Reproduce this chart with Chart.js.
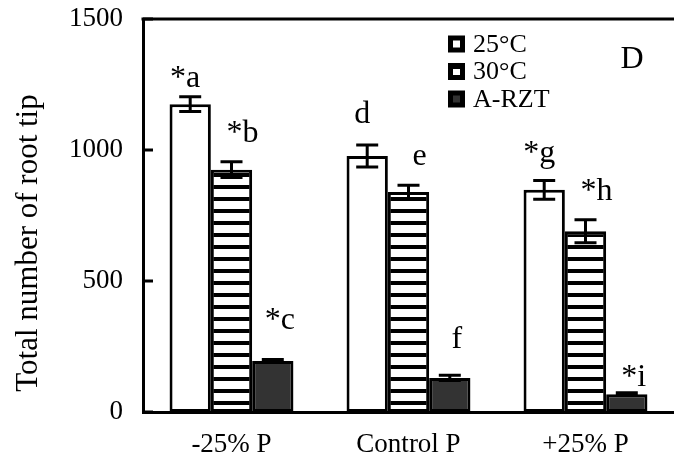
<!DOCTYPE html>
<html>
<head>
<meta charset="utf-8">
<script src="https://cdn.jsdelivr.net/npm/chart.js"></script>
<style>
  html, body { margin: 0; background: #fff; }
  canvas { display: block; }
</style>
</head>
<body>
<canvas id="rootChart" width="674" height="462"></canvas>
<script>
var categories = ["-25% P", "Control P", "+25% P"];
var seriesNames = ["25°C", "30°C", "A-RZT"];
var t25 = [1175, 977, 848];
var t30 = [925, 840, 690];
var arzt = [195, 130, 68];
var err25 = [28, 42, 36];
var err30 = [30, 25, 44];
var errArzt = [5, 10, 5];
var letters25 = ["*a", "d", "*g"];
var letters30 = ["*b", "e", "*h"];
var lettersArzt = ["*c", "f", "*i"];
var yTicks = [0, 500, 1000, 1500];

// letter placement relative to the error bar top (style only)
var labelDx = [-5, 11, 7];
var labelGap = [[10, 22, 18], [20, 20, 20], [31, 27, 7]];

var SERIF = "'Liberation Serif', 'Times New Roman', serif";

(function () {
  var el = document.getElementById("rootChart");
  var ctx = el.getContext("2d");

  function hatch() {
    var p = document.createElement("canvas");
    p.width = 8;
    p.height = 12;
    var g = p.getContext("2d");
    g.fillStyle = "#fff";
    g.fillRect(0, 0, 8, 12);
    g.fillStyle = "#000";
    g.fillRect(0, 5, 8, 4);
    return ctx.createPattern(p, "repeat");
  }

  var decor = {
    id: "decor",
    afterDatasetsDraw: function (chart) {
      var c = chart.ctx;
      var a = chart.chartArea;
      var y = chart.scales.y;
      c.save();
      c.strokeStyle = "#000";
      c.fillStyle = "#000";
      c.lineWidth = 3;

      // top frame line
      c.beginPath();
      c.moveTo(a.left - 1.5, a.top);
      c.lineTo(a.right, a.top);
      c.stroke();

      // inward ticks
      y.ticks.forEach(function (t) {
        var py = y.getPixelForValue(t.value);
        c.beginPath();
        c.moveTo(a.left, py);
        c.lineTo(a.left + 10, py);
        c.stroke();
      });

      // error bars and letters
      chart.data.datasets.forEach(function (ds, i) {
        chart.getDatasetMeta(i).data.forEach(function (bar, j) {
          var v = ds.data[j], e = ds.err[j];
          var top = y.getPixelForValue(v + e);
          var bot = y.getPixelForValue(v - e);
          if (e) {
            c.beginPath();
            c.moveTo(bar.x, top);
            c.lineTo(bar.x, bot);
            c.moveTo(bar.x - 11, top);
            c.lineTo(bar.x + 11, top);
            c.moveTo(bar.x - 11, bot);
            c.lineTo(bar.x + 11, bot);
            c.stroke();
          }
          c.font = "32px " + SERIF;
          c.textAlign = "center";
          c.textBaseline = "alphabetic";
          c.fillText(ds.letters[j], bar.x + labelDx[i], top - labelGap[i][j]);
        });
      });

      // legend
      var lx = a.left + 305;
      chart.data.datasets.forEach(function (ds, i) {
        var cy = a.top + 25 + i * 27.5;
        c.fillStyle = "#000";
        c.fillRect(lx, cy - 8.5, 17, 17);
        c.fillStyle = ds.backgroundColor;
        c.fillRect(lx + 5, cy - 3.5, 7, 7);
        c.fillStyle = "#000";
        c.font = "26px " + SERIF;
        c.textAlign = "left";
        c.textBaseline = "middle";
        c.fillText(ds.label, lx + 25, cy + 1);
      });

      // panel letter
      c.font = "32px " + SERIF;
      c.textAlign = "center";
      c.textBaseline = "alphabetic";
      c.fillText("D", a.right - 42, a.top + 49);

      // y title
      c.translate(37, 243);
      c.rotate(-Math.PI / 2);
      c.font = "31px " + SERIF;
      c.fillText("Total number of root tip", 0, 0);
      c.restore();
    }
  };

  function makeSet(name, data, err, letters, fill) {
    return {
      label: name,
      data: data,
      err: err,
      letters: letters,
      backgroundColor: fill,
      borderColor: "#000",
      borderWidth: 3,
      borderSkipped: false
    };
  }

  new Chart(el, {
    type: "bar",
    data: {
      labels: categories,
      datasets: [
        makeSet(seriesNames[0], t25, err25, letters25, "#fff"),
        makeSet(seriesNames[1], t30, err30, letters30, hatch()),
        makeSet(seriesNames[2], arzt, errArzt, lettersArzt, "#333333")
      ]
    },
    options: {
      responsive: false,
      animation: false,
      layout: { padding: { top: 19, right: 0, left: 0, bottom: 0 } },
      plugins: { legend: { display: false }, tooltip: { enabled: false } },
      datasets: { bar: { categoryPercentage: 0.7, barPercentage: 1 } },
      scales: {
        x: {
          grid: { display: false, drawTicks: false },
          border: { color: "#000", width: 3 },
          ticks: { color: "#000", font: { family: SERIF, size: 27 }, padding: 17 },
          afterFit: function (s) {
            s.height = 50;
            s.paddingLeft = 0;
            s.paddingRight = 0;
          }
        },
        y: {
          min: 0,
          max: 1500,
          afterBuildTicks: function (s) {
            s.ticks = yTicks.map(function (v) { return { value: v }; });
          },
          grid: { display: false, drawTicks: false },
          border: { color: "#000", width: 3 },
          ticks: {
            color: "#000",
            font: { family: SERIF, size: 27 },
            padding: 20,
            callback: function (v) { return String(v); }
          },
          afterFit: function (s) {
            s.width = 143;
            s.paddingTop = 0;
            s.paddingBottom = 0;
          }
        }
      }
    },
    plugins: [decor]
  });
})();
</script>
</body>
</html>
